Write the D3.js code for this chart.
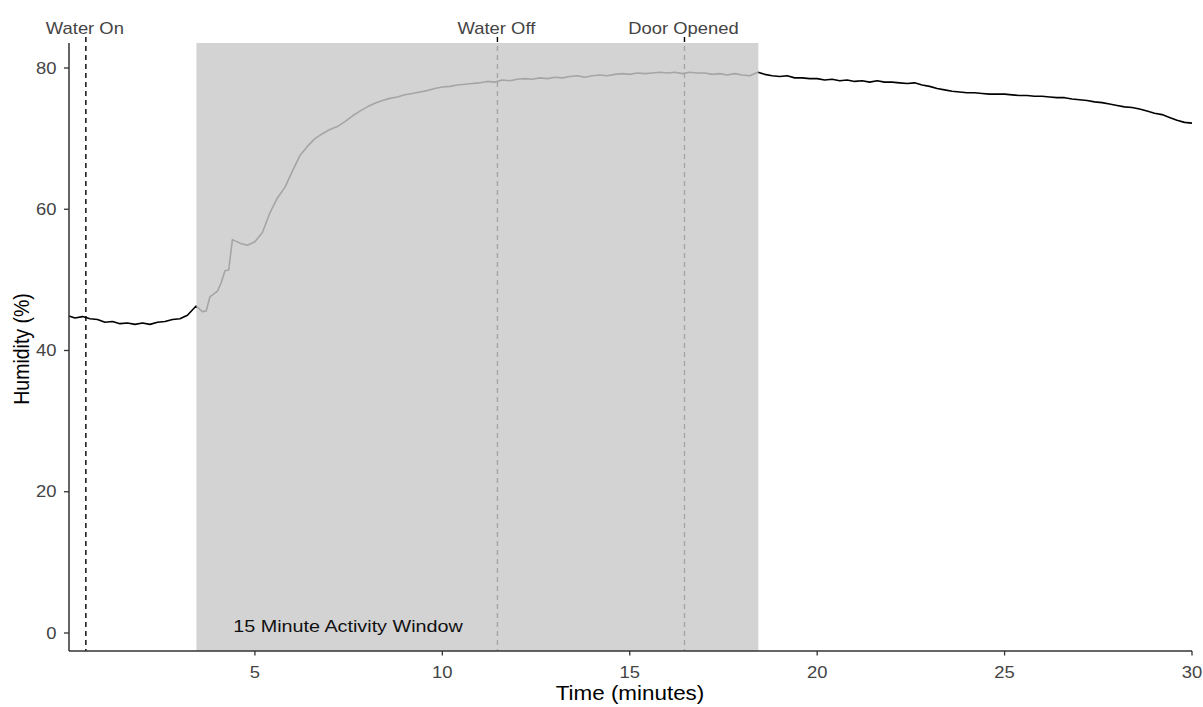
<!DOCTYPE html>
<html>
<head>
<meta charset="utf-8">
<script src="https://cdn.jsdelivr.net/npm/d3@7"></script>
<style>
  body { margin: 0; background: #fff; }
  svg { display: block; font-family: "Liberation Sans", Arial, sans-serif; }
</style>
</head>
<body>
<div id="chart"></div>
<script>
// humidity readings (minutes, %)
const timeMin = [0.04,0.2,0.4,0.6,0.8,1.0,1.2,1.4,1.6,1.8,2.0,2.2,2.4,2.6,2.8,3.0,3.2,3.43,3.6,3.7,3.8,4.0,4.1,4.2,4.3,4.4,4.6,4.8,5.0,5.2,5.4,5.6,5.8,6.0,6.2,6.4,6.6,6.8,7.0,7.2,7.4,7.6,7.8,8.0,8.2,8.4,8.6,8.8,9.0,9.2,9.4,9.6,9.8,10.0,10.2,10.4,10.6,10.8,11.0,11.2,11.4,11.6,11.8,12.0,12.2,12.4,12.6,12.8,13.0,13.2,13.4,13.6,13.8,14.0,14.2,14.4,14.6,14.8,15.0,15.2,15.4,15.6,15.8,16.0,16.2,16.4,16.6,16.8,17.0,17.2,17.4,17.6,17.8,18.0,18.2,18.42,18.6,18.8,19.0,19.2,19.4,19.6,19.8,20.0,20.2,20.4,20.6,20.8,21.0,21.2,21.4,21.6,21.8,22.0,22.2,22.4,22.6,22.8,23.0,23.2,23.4,23.6,23.8,24.0,24.2,24.4,24.6,24.8,25.0,25.2,25.4,25.6,25.8,26.0,26.2,26.4,26.6,26.8,27.0,27.2,27.4,27.6,27.8,28.0,28.2,28.4,28.6,28.8,29.0,29.2,29.4,29.6,29.8,30.0];
const humidity = [44.9,44.6,44.8,44.5,44.4,44.0,44.1,43.8,43.9,43.7,43.9,43.7,44.0,44.1,44.4,44.5,45.0,46.3,45.5,45.6,47.6,48.4,49.6,51.3,51.4,55.7,55.2,54.9,55.4,56.7,59.5,61.6,63.1,65.4,67.6,68.9,70.0,70.7,71.3,71.7,72.4,73.2,73.9,74.5,75.0,75.4,75.7,75.9,76.2,76.4,76.6,76.8,77.1,77.3,77.4,77.6,77.7,77.8,77.9,78.1,78.0,78.3,78.2,78.4,78.5,78.4,78.6,78.5,78.7,78.6,78.8,78.9,78.7,78.9,79.0,78.9,79.1,79.2,79.1,79.3,79.2,79.3,79.4,79.3,79.4,79.2,79.4,79.3,79.3,79.1,79.2,79.0,79.2,79.0,78.9,79.4,79.1,78.9,78.8,78.9,78.6,78.6,78.5,78.5,78.3,78.4,78.2,78.3,78.1,78.2,78.0,78.2,78.0,78.0,77.9,77.8,77.9,77.6,77.4,77.1,76.9,76.7,76.6,76.5,76.5,76.4,76.3,76.3,76.3,76.2,76.1,76.1,76.0,76.0,75.9,75.8,75.8,75.6,75.5,75.4,75.2,75.1,74.9,74.7,74.5,74.4,74.2,73.9,73.6,73.4,73.0,72.6,72.3,72.2];

// event markers
const eventNames = ["Water On", "Water Off", "Door Opened"];
const eventTimes = [0.49, 11.47, 16.46];

// shaded activity window
const windowStart = 3.44;
const windowEnd = 18.43;
const windowLabel = "15 Minute Activity Window";

const xTicks = [5, 10, 15, 20, 25, 30];
const yTicks = [0, 20, 40, 60, 80];

const width = 1203, height = 707;
const panel = { left: 69, right: 1192, top: 43, bottom: 651 };
const stretch = 1.15; // reference glyphs are a bit wider than tall

const x = d3.scaleLinear().domain([0.04, 30]).range([panel.left, panel.right]);
const y = d3.scaleLinear().domain([0, 80]).range([633, 68]);

const svg = d3.select("#chart").append("svg")
    .attr("width", width)
    .attr("height", height);

function label(g, px, py, txt, opts) {
    return g.append("text")
        .attr("transform", `translate(${px},${py}) scale(${stretch},1)`)
        .attr("text-anchor", opts.anchor || "middle")
        .attr("font-size", opts.size)
        .attr("fill", opts.fill)
        .text(txt);
}

const data = timeMin.map((t, i) => ({ t: t, h: humidity[i] }));

// event lines (extend a bit above the panel)
svg.append("g").selectAll("line")
    .data(eventTimes)
    .enter().append("line")
    .attr("x1", d => x(d)).attr("x2", d => x(d))
    .attr("y1", 37).attr("y2", panel.bottom)
    .attr("stroke", "#000")
    .attr("stroke-width", 1.4)
    .attr("stroke-dasharray", "5,4");

// humidity line
svg.append("path")
    .datum(data)
    .attr("fill", "none")
    .attr("stroke", "#000")
    .attr("stroke-width", 1.6)
    .attr("stroke-linejoin", "round")
    .attr("d", d3.line().x(d => x(d.t)).y(d => y(d.h)));

// translucent window over the lines
svg.append("rect")
    .attr("x", x(windowStart))
    .attr("y", panel.top)
    .attr("width", x(windowEnd) - x(windowStart))
    .attr("height", panel.bottom - panel.top)
    .attr("fill", "rgb(201,201,201)")
    .attr("fill-opacity", 0.82);

label(svg, 348, y(1) + 6, windowLabel, { size: 17.2, fill: "#111" });

// event labels
eventNames.forEach((name, i) => {
    label(svg, x(eventTimes[i]) - 1, 34, name, { size: 16, fill: "#444" });
});

// axes
const axisColor = "#333";
svg.append("line")
    .attr("x1", panel.left).attr("x2", panel.left)
    .attr("y1", panel.top).attr("y2", panel.bottom)
    .attr("stroke", axisColor).attr("stroke-width", 1.5);
svg.append("line")
    .attr("x1", panel.left).attr("x2", panel.right)
    .attr("y1", panel.bottom).attr("y2", panel.bottom)
    .attr("stroke", axisColor).attr("stroke-width", 1.5);

const xt = svg.append("g");
xTicks.forEach(v => {
    xt.append("line")
        .attr("x1", x(v)).attr("x2", x(v))
        .attr("y1", panel.bottom).attr("y2", panel.bottom + 4.5)
        .attr("stroke", axisColor).attr("stroke-width", 1.3);
    label(xt, x(v), 677.5, v, { size: 16, fill: "#444" });
});

const yt = svg.append("g");
yTicks.forEach(v => {
    yt.append("line")
        .attr("x1", panel.left - 5).attr("x2", panel.left)
        .attr("y1", y(v)).attr("y2", y(v))
        .attr("stroke", axisColor).attr("stroke-width", 1.3);
    label(yt, 56.5, y(v) + 5.5, v, { size: 16, fill: "#444", anchor: "end" });
});

// axis titles
label(svg, 630, 700, "Time (minutes)", { size: 19.5, fill: "#000" });
svg.append("text")
    .attr("transform", `translate(29,349) rotate(-90) scale(1,${stretch})`)
    .attr("text-anchor", "middle")
    .attr("font-size", 19.5)
    .attr("fill", "#000")
    .text("Humidity (%)");
</script>
</body>
</html>
